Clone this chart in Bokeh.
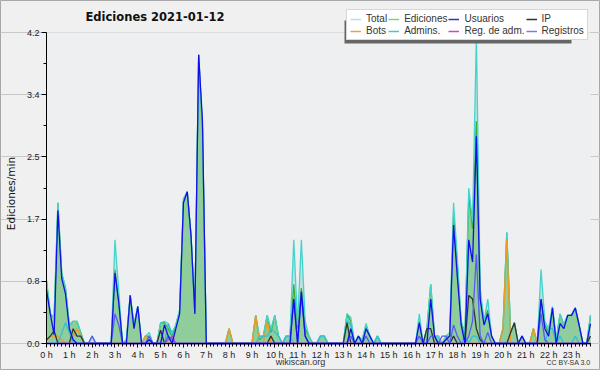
import math
from bokeh.plotting import figure
from bokeh.models import (ColumnDataSource, FixedTicker, NumeralTickFormatter,
                          Legend, LegendItem, Label, BoxAnnotation)
from bokeh.embed import file_html
from bokeh.resources import INLINE

# ---------------- data (edits per minute, 10-minute slots) ----------------
hour_labels = [f"{h} h" for h in range(24)]
y_ticks = [0, 0.84, 1.68, 2.52, 3.36, 4.2]
y_minor = [0.42, 1.26, 2.1, 2.94, 3.78]

total = [
    0.85, 0.4, 0.35, 1.9, 0.95, 0.75,
    0.25, 0.3, 0.3, 0.15, 0, 0,
    0.1, 0, 0, 0, 0, 0,
    1.4, 0.7, 0, 0.05, 0.65, 0.25,
    0.5, 0, 0.1, 0.15, 0, 0,
    0.28, 0.3, 0.27, 0.15, 0.25, 0.45,
    1.95, 2.05, 1.45, 0.42, 3.9, 2.9,
    0, 0, 0, 0, 0, 0,
    0.2, 0, 0, 0, 0, 0,
    0, 0.38, 0.1, 0.1, 0.38, 0.2,
    0.38, 0.1, 0, 0.1, 0.1, 1.4,
    0.25, 1.4, 0.3, 0.1, 0, 0,
    0.1, 0.1, 0, 0, 0, 0,
    0, 0.4, 0.35, 0, 0.1, 0.05,
    0.27, 0.1, 0, 0.1, 0, 0,
    0, 0, 0, 0, 0, 0,
    0, 0, 0.4, 0, 0.2, 0.8,
    0.1, 0.1, 0, 0.1, 0.15, 1.9,
    1.15, 0.3, 0.15, 2.1, 1.65, 4.15,
    0.75, 0.3, 0.6, 0.1, 0, 0,
    0.2, 1.5, 0.15, 0.28, 0, 0.1,
    0, 0, 0.2, 0, 1.0, 0.3,
    0.2, 0.5, 0.05, 0.4, 0.25, 0.38,
    0.38, 0.48, 0.25, 0, 0, 0.38,
]
ediciones = [
    0.85, 0.4, 0.35, 1.9, 0.95, 0.75,
    0.25, 0.3, 0.3, 0.15, 0, 0,
    0, 0, 0, 0, 0, 0,
    1.0, 0.55, 0, 0.05, 0.65, 0.25,
    0.5, 0, 0.1, 0.1, 0, 0,
    0.28, 0.28, 0.2, 0.1, 0.25, 0.45,
    1.95, 2.05, 1.45, 0.42, 3.9, 2.9,
    0, 0, 0, 0, 0, 0,
    0.2, 0, 0, 0, 0, 0,
    0, 0.38, 0.05, 0.1, 0.38, 0.15,
    0.38, 0.1, 0, 0.1, 0.1, 0.8,
    0.2, 0.75, 0.2, 0.1, 0, 0,
    0.1, 0.1, 0, 0, 0, 0,
    0, 0.4, 0.3, 0, 0.1, 0.05,
    0.25, 0.1, 0, 0.1, 0, 0,
    0, 0, 0, 0, 0, 0,
    0, 0, 0.3, 0, 0.2, 0.8,
    0.1, 0.1, 0, 0.1, 0.1, 1.75,
    1.05, 0.3, 0.1, 2.0, 1.55, 3.0,
    0.65, 0.3, 0.45, 0.1, 0, 0,
    0.2, 1.5, 0.15, 0.28, 0, 0.1,
    0, 0, 0.2, 0, 0.6, 0.25,
    0.15, 0.48, 0.05, 0.4, 0.25, 0.38,
    0.38, 0.48, 0.25, 0, 0, 0.38,
]
usuarios = [
    0.72, 0.4, 0.12, 1.8, 0.88, 0.67,
    0.2, 0.05, 0, 0, 0, 0,
    0, 0, 0, 0, 0, 0,
    0.95, 0.55, 0, 0, 0.65, 0.2,
    0.5, 0, 0, 0.05, 0, 0,
    0, 0.25, 0.1, 0, 0.2, 0.4,
    1.9, 2.05, 1.45, 0.4, 3.9, 3.0,
    0, 0, 0, 0, 0, 0,
    0, 0, 0, 0, 0, 0,
    0, 0, 0, 0, 0, 0,
    0, 0, 0, 0, 0, 0.6,
    0, 0.7, 0.1, 0, 0, 0,
    0, 0, 0, 0, 0, 0,
    0, 0, 0.2, 0, 0.1, 0,
    0.2, 0.1, 0, 0, 0, 0,
    0, 0, 0, 0, 0, 0,
    0, 0, 0.28, 0, 0, 0.6,
    0.1, 0, 0, 0.05, 0.1, 1.6,
    0.9, 0.25, 0, 1.4, 1.1, 2.8,
    0.6, 0.25, 0.4, 0.1, 0, 0,
    0, 0, 0, 0, 0, 0.1,
    0, 0, 0, 0, 0.6, 0.2,
    0.1, 0.48, 0, 0.27, 0.2, 0.38,
    0.38, 0.48, 0.25, 0, 0, 0.27,
]
ip = [
    0.05, 0.1, 0.17, 0, 0, 0,
    0, 0.2, 0.1, 0.1, 0, 0,
    0, 0, 0, 0, 0, 0,
    0, 0, 0, 0, 0, 0,
    0, 0, 0, 0, 0, 0,
    0.18, 0, 0, 0, 0, 0,
    0, 0, 0, 0, 0, 0,
    0, 0, 0, 0, 0, 0,
    0, 0, 0, 0, 0, 0,
    0, 0, 0, 0, 0, 0.1,
    0, 0, 0, 0, 0, 0,
    0, 0, 0, 0, 0, 0,
    0, 0, 0, 0, 0, 0,
    0, 0.28, 0, 0, 0, 0,
    0, 0, 0, 0, 0, 0,
    0, 0, 0, 0, 0, 0,
    0, 0, 0, 0, 0.2, 0.2,
    0, 0, 0, 0, 0, 0.1,
    0, 0, 0, 0.65, 0.6, 0.2,
    0.05, 0, 0, 0, 0, 0,
    0, 0, 0.15, 0.28, 0, 0,
    0, 0, 0, 0, 0, 0,
    0, 0, 0, 0, 0, 0,
    0, 0, 0, 0, 0, 0.1,
]
bots = [
    0.03, 0.1, 0.1, 0.1, 0.05, 0,
    0, 0.1, 0.2, 0.1, 0, 0,
    0, 0, 0, 0, 0, 0,
    0, 0, 0, 0, 0, 0,
    0, 0, 0.1, 0.05, 0, 0,
    0, 0, 0, 0, 0, 0,
    0, 0, 0, 0, 0, 0,
    0, 0, 0, 0, 0, 0,
    0.2, 0, 0, 0, 0, 0,
    0, 0.38, 0, 0, 0.3, 0,
    0, 0, 0, 0, 0, 0,
    0, 0, 0, 0, 0, 0,
    0, 0, 0, 0, 0, 0,
    0, 0, 0, 0, 0, 0,
    0, 0, 0, 0, 0, 0,
    0, 0, 0, 0, 0, 0,
    0, 0, 0, 0, 0, 0,
    0, 0, 0, 0, 0, 0,
    0, 0, 0, 0, 0, 0,
    0, 0, 0, 0, 0, 0,
    0.2, 1.4, 0, 0, 0, 0,
    0, 0, 0.2, 0, 0, 0,
    0, 0, 0, 0, 0, 0,
    0, 0, 0, 0, 0, 0,
]
admins = [
    0, 0, 0, 0, 0.14, 0.28,
    0.15, 0, 0, 0, 0, 0,
    0, 0, 0, 0, 0, 0,
    0, 0, 0, 0, 0, 0,
    0, 0, 0, 0, 0, 0,
    0, 0, 0.27, 0.1, 0, 0,
    0, 0, 0, 0, 0, 0,
    0, 0, 0, 0, 0, 0,
    0, 0, 0, 0, 0, 0,
    0, 0, 0.1, 0.1, 0.1, 0.2,
    0.15, 0.1, 0, 0.1, 0.1, 0,
    0, 0, 0, 0, 0, 0,
    0.1, 0.1, 0, 0, 0, 0,
    0, 0.3, 0.25, 0, 0, 0,
    0, 0, 0, 0.1, 0, 0,
    0, 0, 0, 0, 0, 0,
    0, 0, 0, 0, 0, 0,
    0, 0, 0, 0, 0, 0,
    0, 0, 0.1, 0, 0.1, 0.1,
    0, 0, 0, 0, 0, 0,
    0, 0, 0, 0, 0, 0,
    0, 0, 0, 0, 0, 0,
    0.2, 0.2, 0, 0.1, 0, 0,
    0, 0.1, 0, 0, 0, 0,
]
reg_adm = [0] * 30 + [0, 0, 0.05, 0.1, 0, 0] + [0] * 108
registros = [
    0, 0, 0, 0, 0, 0,
    0, 0, 0, 0, 0, 0,
    0.1, 0, 0, 0, 0, 0,
    0.4, 0.25, 0, 0, 0, 0,
    0, 0, 0, 0.1, 0, 0,
    0, 0, 0.1, 0.05, 0, 0,
    0, 0, 0, 0, 0, 0,
    0, 0, 0, 0, 0, 0,
    0, 0, 0, 0, 0, 0,
    0, 0, 0, 0, 0, 0,
    0, 0, 0, 0, 0, 0.6,
    0, 0.65, 0.1, 0, 0, 0,
    0, 0, 0, 0, 0, 0,
    0, 0, 0.1, 0, 0, 0,
    0.1, 0, 0, 0, 0, 0,
    0, 0, 0, 0, 0, 0,
    0, 0, 0.1, 0, 0, 0.1,
    0.1, 0, 0.1, 0.1, 0, 0.25,
    0.1, 0, 0, 0.1, 0.3, 1.2,
    0.1, 0, 0.15, 0, 0, 0,
    0, 0, 0, 0, 0, 0,
    0, 0, 0, 0, 0.4, 0.05,
    0, 0, 0, 0, 0, 0,
    0, 0, 0, 0, 0, 0,
]

n = len(total)
slot_hours = [i / 6 for i in range(n)]  # 10-minute slots expressed in hours
x_end = (n - 1) / 6
y_top = y_ticks[-1]

src = ColumnDataSource(dict(x=slot_hours, zero=[0] * n, total=total, ediciones=ediciones,
                            usuarios=usuarios, ip=ip, bots=bots, admins=admins,
                            reg_adm=reg_adm, registros=registros))

# ---------------- layout (pixels) ----------------
W, H = 600, 370
plot_left, plot_right, plot_top, plot_bottom = 46, 590, 32, 343
px_per_h = (plot_right - plot_left) / x_end
px_per_u = (plot_bottom - plot_top) / y_top
x_range = (-plot_left / px_per_h, x_end + (W - plot_right) / px_per_h)
y_range = (-(H - plot_bottom) / px_per_u, y_top + plot_top / px_per_u)

p = figure(width=W, height=H, output_backend="svg", toolbar_location=None,
           x_range=x_range, y_range=y_range, min_border=0)
p.background_fill_color = "#f0f0f0"
p.border_fill_color = "#f0f0f0"
p.outline_line_color = "#a8a8a8"

# plot-area background
p.add_layout(BoxAnnotation(left=0, right=x_end, bottom=0, top=y_top, level="underlay",
                           fill_color="#eeeff1", fill_alpha=1.0, line_color=None))

# areas
p.varea(x="x", y1="zero", y2="total", source=src, fill_color="#70c8c0", fill_alpha=0.35)
p.varea(x="x", y1="zero", y2="ediciones", source=src, fill_color="#6cc06c", fill_alpha=0.6)

lw = 1.3
p.line("x", "ediciones", source=src, line_color="#3cb03c", line_width=lw)
p.line("x", "total", source=src, line_color="#44d4cc", line_width=lw)
p.line("x", "bots", source=src, line_color="#f09a20", line_width=lw)
p.line("x", "admins", source=src, line_color="#30c0d8", line_width=lw)
p.line("x", "ip", source=src, line_color="#333333", line_width=lw)
p.line("x", "reg_adm", source=src, line_color="#c040e0", line_width=lw)
p.line("x", "registros", source=src, line_color="#5a5af5", line_width=lw)
p.line("x", "usuarios", source=src, line_color="#1010e8", line_width=lw)

# axes (fixed at the data origin, limited to the data extent)
xt = FixedTicker(ticks=list(range(24)), minor_ticks=slot_hours)
p.xaxis.ticker = xt
p.xaxis.major_label_overrides = {h: lab for h, lab in enumerate(hour_labels)}
yt = FixedTicker(ticks=y_ticks, minor_ticks=y_minor)
p.yaxis.ticker = yt
p.ygrid.ticker = yt
p.yaxis.formatter = NumeralTickFormatter(format="0.0")
p.xaxis.fixed_location = 0
p.yaxis.fixed_location = 0
p.xaxis.bounds = (0, x_end)
p.yaxis.bounds = (0, y_top)
p.ygrid.bounds = (0, x_end)
p.xgrid.visible = False
p.ygrid.grid_line_color = "#c8c8c8"
for ax in (p.xaxis, p.yaxis):
    ax.axis_line_color = "#000000"
    ax.major_tick_line_color = "#000000"
    ax.minor_tick_line_color = "#000000"
    ax.major_tick_in = 0
    ax.minor_tick_in = 0
    ax.major_label_text_font = "Liberation Sans"
    ax.major_label_text_font_size = "9px"
    ax.major_label_text_color = "#222222"
    ax.major_label_standoff = 2
p.xaxis.major_tick_out = 4
p.xaxis.minor_tick_out = 3
p.yaxis.major_tick_out = 5
p.yaxis.minor_tick_out = 3

# legend (separate key swatches, each with one empty point so the swatch is drawn)
legend_entries = [("Total", "#a8e6ec"), ("Ediciones", "#80d080"), ("Usuarios", "#3030d8"),
                  ("IP", "#303030"), ("Bots", "#f0a040"), ("Admins.", "#40c8dc"),
                  ("Reg. de adm.", "#d040e0"), ("Registros", "#7878f8")]
items = []
for lab, col in legend_entries:
    r = p.line([float("nan")], [float("nan")], line_color=col, line_width=1.5)
    items.append(LegendItem(label=lab, renderers=[r]))

leg_x, leg_bottom = 346, H - 40
p.add_layout(BoxAnnotation(left=leg_x - 2, right=leg_x + 225, bottom=leg_bottom - 3,
                           top=leg_bottom + 20,
                           left_units="screen", right_units="screen",
                           bottom_units="screen", top_units="screen",
                           fill_color="#666666", fill_alpha=1.0, line_color=None))

legend = Legend(items=items, location=(leg_x, leg_bottom), orientation="horizontal", ncols=4,
                glyph_width=11, glyph_height=10, label_height=10, label_standoff=5,
                spacing=1, padding=3, margin=0,
                label_text_font="Liberation Sans", label_text_font_size="10px",
                label_text_color="#333333",
                background_fill_color="#ffffff", background_fill_alpha=1.0,
                border_line_color="#b0b0b0", border_line_width=1)
p.add_layout(legend)

# texts
p.add_layout(Label(x=85, y=H - 16, x_units="screen", y_units="screen",
                   text="Ediciones  2021-01-12", text_align="left", text_baseline="middle",
                   text_font="DejaVu Sans", text_font_size="11.5px", text_font_style="bold",
                   text_color="#111111"))
p.add_layout(Label(x=10, y=H - 193, x_units="screen", y_units="screen", text="Ediciones/min",
                   angle=math.pi / 2, text_align="center", text_baseline="middle",
                   text_font="DejaVu Sans", text_font_size="10.5px", text_color="#111111"))
p.add_layout(Label(x=300, y=H - 361, x_units="screen", y_units="screen", text="wikiscan.org",
                   text_align="center", text_baseline="middle",
                   text_font="Liberation Sans", text_font_size="9px", text_color="#333333"))
p.add_layout(Label(x=590, y=H - 362, x_units="screen", y_units="screen", text="CC BY-SA 3.0",
                   text_align="right", text_baseline="middle",
                   text_font="Liberation Sans", text_font_size="7px", text_color="#333333"))

open("out.html", "w").write(file_html(p, INLINE))
